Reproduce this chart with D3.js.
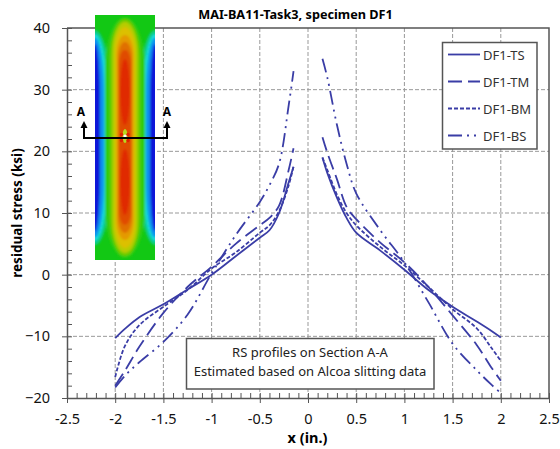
<!DOCTYPE html>
<html>
<head>
<meta charset="utf-8">
<script src="https://cdnjs.cloudflare.com/ajax/libs/d3/7.8.5/d3.min.js"></script>
<style>
  html, body { margin: 0; padding: 0; background: #fff; }
  svg { display: block; }
  text { font-family: "Noto Sans", "DejaVu Sans", sans-serif; }
</style>
</head>
<body>
<div id="container"></div>
<script>
const xInches = [-2, -1.9, -1.75, -1.5, -1.25, -1, -0.75, -0.5, -0.4, -0.3, -0.2, -0.15, 0, 0.15, 0.2, 0.3, 0.4, 0.5, 0.75, 1, 1.25, 1.5, 1.75, 1.9, 2];
const ts = [-10.3, -8.8, -6.9, -4.8, -2.4, 0, 3, 6, 7.2, 10, 15, 17.5, null, 19, 16.5, 12.5, 9.2, 6.8, 3.9, 0.8, -2.5, -5.2, -7.6, -9.1, -10.2];
const tm = [-18, -15.6, -11.7, -6.2, -2, 1.3, 5, 8, 9.2, 11.2, 17, 20.5, null, 22.3, 19.8, 15.5, 11, 9, 5.2, 2, -2, -6.6, -11.4, -15, -17.2];
const bm = [-16.6, -11.6, -8.2, -5.2, -2.5, 1, 3.6, 6.8, 8, 10.3, 14.5, 17.6, null, 19, 17, 13, 10, 8, 4.5, 1.5, -2, -5.6, -8.7, -11.8, -14];
const bs = [-18.3, -16.4, -14.2, -10.9, -6.5, 0.2, 6.4, 11.8, 14.5, 18, 27.5, 33, null, 35, 32, 24.3, 18, 13.2, 7.2, 2, -4.5, -11.2, -15.5, -17.8, -19.2];

const seriesNames = ['DF1-TS', 'DF1-TM', 'DF1-BM', 'DF1-BS'];
const seriesValues = [ts, tm, bm, bs];
const seriesDash = ['none', '14,6', '4,2', '14,5,2,5,2,5'];

const xTicks = [-2.5, -2, -1.5, -1, -0.5, 0, 0.5, 1, 1.5, 2, 2.5];
const yTicks = [40, 30, 20, 10, 0, -10, -20];
const noteLines = ['RS profiles on Section A-A', 'Estimated based on Alcoa slitting data'];

const width = 560;
const height = 449;
const margin = { top: 28, right: 11, bottom: 51, left: 67 };
const plotW = width - margin.left - margin.right;
const plotH = height - margin.top - margin.bottom;
const lineColor = '#3a3da6';
const axisColor = '#555';

const x = d3.scaleLinear().domain([-2.5, 2.5]).range([0, plotW]);
const y = d3.scaleLinear().domain([-20, 40]).range([plotH, 0]);

const root = d3.select('#container').append('svg')
  .attr('width', width)
  .attr('height', height);

const svg = root.append('g')
  .attr('transform', `translate(${margin.left}, ${margin.top})`);

// grid
svg.append('g').selectAll('line')
  .data(xTicks.slice(1, -1)).enter()
  .append('line')
  .attr('x1', (d) => x(d)).attr('x2', (d) => x(d))
  .attr('y1', 0).attr('y2', plotH)
  .attr('stroke', '#999').attr('stroke-dasharray', '4,2');

svg.append('g').selectAll('line')
  .data(yTicks.slice(1, -1)).enter()
  .append('line')
  .attr('x1', 0).attr('x2', plotW)
  .attr('y1', (d) => y(d)).attr('y2', (d) => y(d))
  .attr('stroke', '#999').attr('stroke-dasharray', '4,2');

// frame
svg.append('path')
  .attr('d', `M0,0H${plotW}V${plotH}`)
  .attr('fill', 'none')
  .attr('stroke', axisColor)
  .attr('stroke-width', 1.5);

// minor ticks point into the plot
const xMinor = d3.range(-25, 26).map((d) => d / 10);
const yMinor = d3.range(-10, 21).map((d) => d * 2);

svg.append('g')
  .attr('transform', `translate(0, ${plotH})`)
  .call(d3.axisBottom(x).tickValues(xMinor).tickSize(-5).tickFormat(''))
  .call((g) => g.select('.domain').remove())
  .selectAll('line').attr('stroke', axisColor);

svg.append('g')
  .call(d3.axisLeft(y).tickValues(yMinor).tickSize(-5).tickFormat(''))
  .call((g) => g.select('.domain').remove())
  .selectAll('line').attr('stroke', axisColor);

const xAxis = svg.append('g')
  .attr('transform', `translate(0, ${plotH})`)
  .call(d3.axisBottom(x).tickValues(xTicks).tickSize(5).tickSizeOuter(0).tickPadding(11).tickFormat((d) => d));
const yAxis = svg.append('g')
  .call(d3.axisLeft(y).tickValues(yTicks).tickSize(5).tickSizeOuter(0).tickPadding(12));

[xAxis, yAxis].forEach((axis) => {
  axis.select('.domain').attr('stroke', axisColor).attr('stroke-width', 1.5);
  axis.selectAll('line').attr('stroke', axisColor);
  axis.selectAll('text')
    .style('font-size', '14.5px')
    .attr('fill', '#111');
});

// FE contour picture, drawn as nested bands
const defs = root.append('defs');
defs.append('clipPath').attr('id', 'inset-clip')
  .append('rect').attr('x', 95).attr('y', 15).attr('width', 60).attr('height', 245);
defs.append('filter').attr('id', 'soft')
  .append('feGaussianBlur').attr('stdDeviation', 0.9);

const inset = root.append('g').attr('clip-path', 'url(#inset-clip)');
inset.append('rect')
  .attr('x', 95).attr('y', 15).attr('width', 60).attr('height', 245)
  .attr('fill', '#12c814');

const bands = inset.append('g').attr('filter', 'url(#soft)');

// side bands: half width, top y, colour
[[15, 30, '#10cc80'], [12, 34, '#12d8d8'], [9, 38, '#1090ee'], [5, 44, '#0a14d8']].forEach((b) => {
  [95, 155].forEach((cx) => {
    bands.append('rect')
      .attr('x', cx - b[0]).attr('y', b[1])
      .attr('width', b[0] * 2).attr('height', 275 - b[1] * 2)
      .attr('rx', b[0]).attr('ry', 60)
      .attr('fill', b[2]);
  });
});

// centre bands
[[20, 17, '#30cc10'], [15, 19, '#70cc00'], [12.5, 22, '#b8cc00'], [10, 27, '#dcc000'],
 [8.5, 35, '#e49a00'], [7, 42, '#e07000'], [6, 50, '#e04c00']].forEach((b) => {
  bands.append('rect')
    .attr('x', 125 - b[0]).attr('y', b[1])
    .attr('width', b[0] * 2).attr('height', 275 - b[1] * 2)
    .attr('rx', b[0]).attr('ry', b[0] * 2.5)
    .attr('fill', b[2]);
});

[92, 182].forEach((cy) => {
  bands.append('ellipse')
    .attr('cx', 125).attr('cy', cy)
    .attr('rx', 4.8).attr('ry', 33)
    .attr('fill', '#e02a00');
});

inset.append('ellipse')
  .attr('cx', 125).attr('cy', 136).attr('rx', 2.5).attr('ry', 7)
  .attr('fill', '#b8d820');
[[121.5, 134.5], [128, 134.5], [121.5, 140.5], [128, 140.5]].forEach((p) => {
  inset.append('circle')
    .attr('cx', p[0]).attr('cy', p[1]).attr('r', 1.7)
    .attr('fill', '#e02000');
});
inset.append('circle')
  .attr('cx', 125).attr('cy', 136).attr('r', 1.6)
  .attr('fill', '#fff');

// profiles
const line = d3.line()
  .defined((d) => d[1] !== null)
  .x((d) => x(d[0]))
  .y((d) => y(d[1]))
  .curve(d3.curveCatmullRom.alpha(0.5));

const curves = root.append('g').attr('transform', `translate(${margin.left}, ${margin.top})`);
seriesValues.forEach((values, i) => {
  curves.append('path')
    .attr('d', line(values.map((v, j) => [xInches[j], v])))
    .attr('fill', 'none')
    .attr('stroke', lineColor)
    .attr('stroke-width', 1.8)
    .attr('stroke-dasharray', seriesDash[i]);
});

// section line with arrows
root.append('path')
  .attr('d', 'M84,126V138H167V126')
  .attr('fill', 'none')
  .attr('stroke', '#000')
  .attr('stroke-width', 2);
[84, 167].forEach((ax) => {
  root.append('path')
    .attr('d', `M${ax},121L${ax + 3.5},128H${ax - 3.5}Z`)
    .attr('fill', '#000');
  root.append('text')
    .attr('x', ax === 84 ? 81 : 167)
    .attr('y', 115.5)
    .attr('text-anchor', 'middle')
    .style('font-size', '12px')
    .style('font-weight', 'bold')
    .text('A');
});

// titles
root.append('text')
  .attr('x', 295.5).attr('y', 18.5)
  .attr('text-anchor', 'middle')
  .style('font-size', '12.7px')
  .style('font-weight', 'bold')
  .text('MAI-BA11-Task3, specimen DF1');

root.append('text')
  .attr('transform', 'rotate(-90)')
  .attr('x', -213).attr('y', 22)
  .attr('text-anchor', 'middle')
  .style('font-size', '13.5px')
  .style('font-weight', 'bold')
  .text('residual stress (ksi)');

root.append('text')
  .attr('x', 307.5).attr('y', 443)
  .attr('text-anchor', 'middle')
  .style('font-size', '14.5px')
  .style('font-weight', 'bold')
  .text('x (in.)');

// legend
const legend = root.append('g');
legend.append('rect')
  .attr('x', 442.5).attr('y', 42.5).attr('width', 94.5).attr('height', 106.5)
  .attr('fill', '#fff')
  .attr('stroke', axisColor)
  .attr('stroke-width', 1.5);

seriesNames.forEach((name, i) => {
  const ly = 54.5 + i * 27;
  legend.append('line')
    .attr('x1', 448).attr('x2', 480)
    .attr('y1', ly).attr('y2', ly)
    .attr('stroke', lineColor)
    .attr('stroke-width', 1.8)
    .attr('stroke-dasharray', seriesDash[i]);
  legend.append('text')
    .attr('x', 483).attr('y', ly + 5)
    .style('font-size', '13px')
    .attr('fill', '#333')
    .text(name);
});

// note box
const note = root.append('g');
note.append('rect')
  .attr('x', 186.5).attr('y', 338.5).attr('width', 247.5).attr('height', 50.5)
  .attr('fill', '#fff')
  .attr('stroke', axisColor)
  .attr('stroke-width', 1.5);
noteLines.forEach((t, i) => {
  note.append('text')
    .attr('x', 310).attr('y', 357 + i * 18.5)
    .attr('text-anchor', 'middle')
    .style('font-size', '13px')
    .attr('fill', '#222')
    .text(t);
});
</script>
</body>
</html>
